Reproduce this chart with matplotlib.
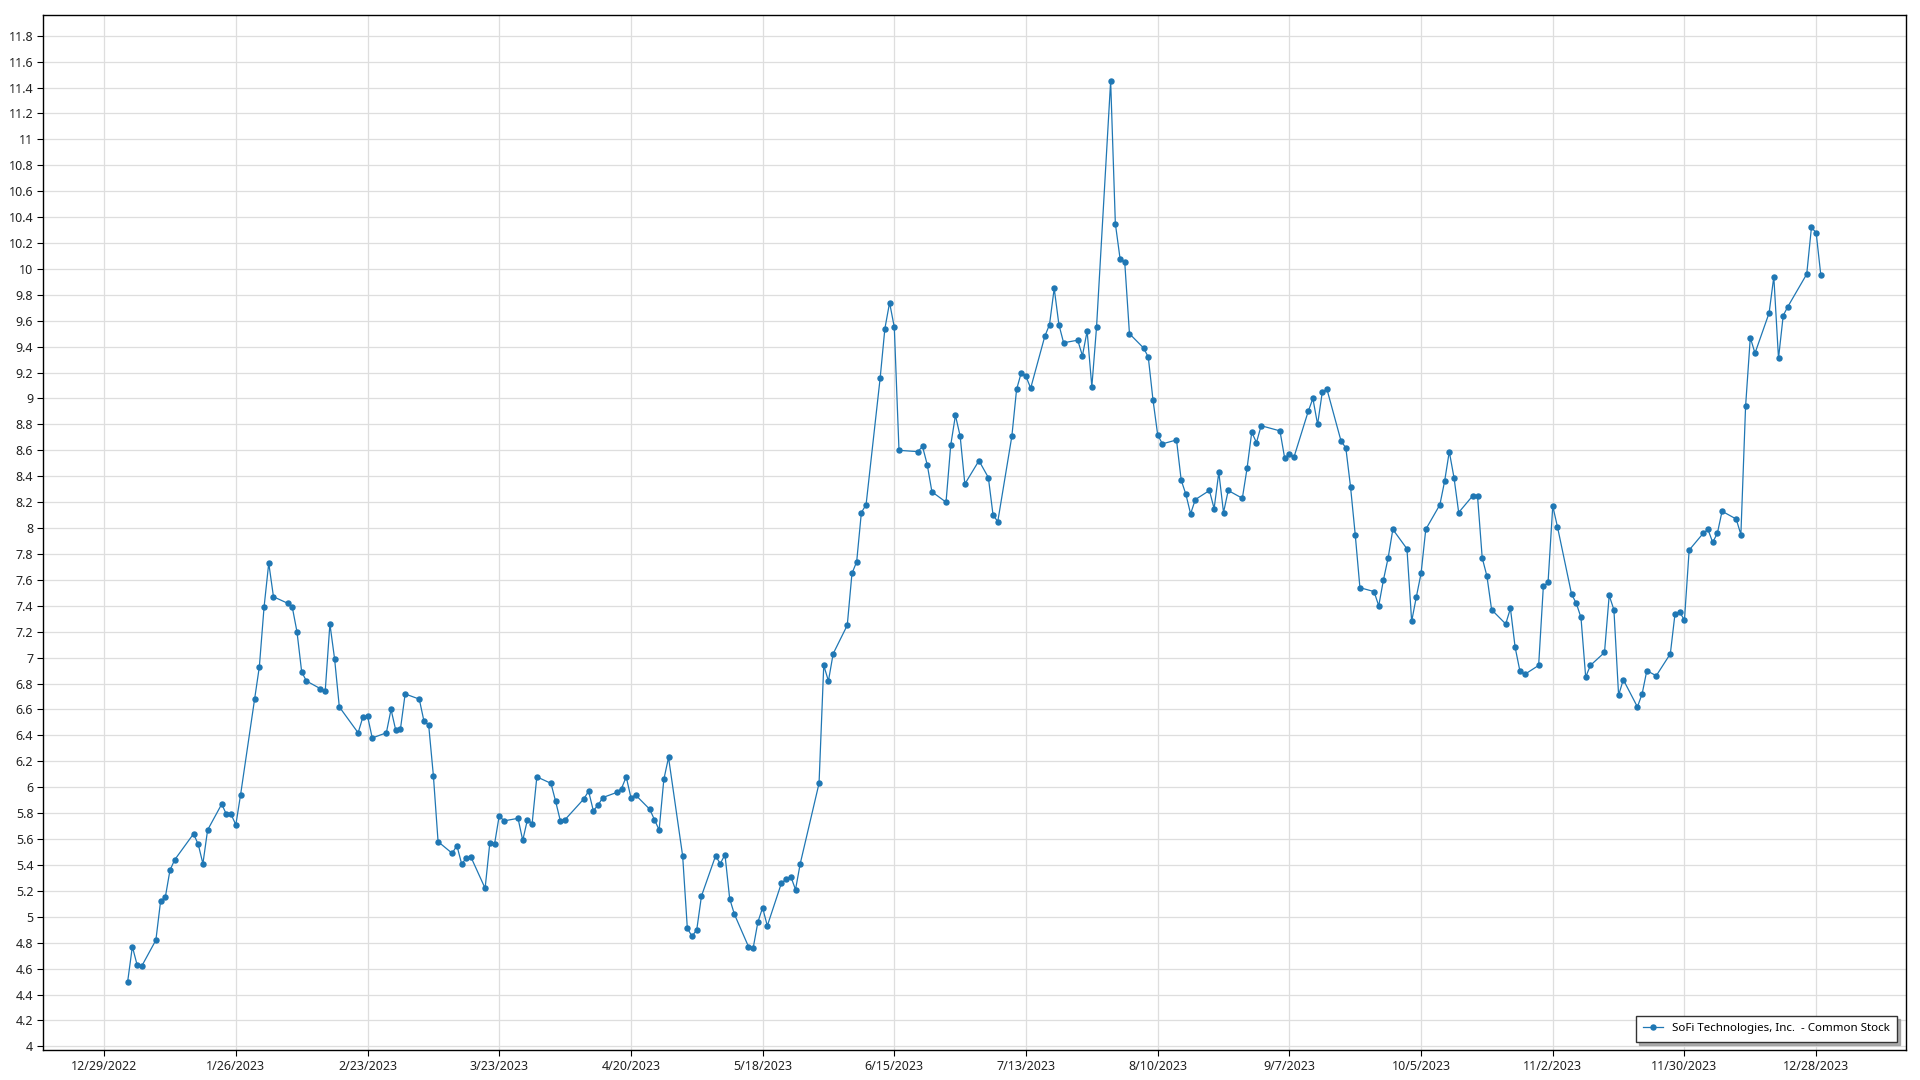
import datetime as dt
import matplotlib
matplotlib.use("Agg")
import matplotlib.pyplot as plt
import matplotlib.dates as mdates
from matplotlib.ticker import MultipleLocator, FuncFormatter, FixedLocator

# ---- data: SoFi closing prices, 2023 (trading days per month) ----
jan_days = [3, 4, 5, 6, 9, 10, 11, 12, 13, 17, 18, 19, 20, 23, 24, 25, 26, 27, 30, 31]
jan_close = [4.50, 4.77, 4.63, 4.62, 4.82, 5.12, 5.15, 5.36, 5.44, 5.64, 5.56, 5.41, 5.67, 5.87, 5.79, 5.79, 5.71, 5.94, 6.68, 6.93]
feb_days = [1, 2, 3, 6, 7, 8, 9, 10, 13, 14, 15, 16, 17, 21, 22, 23, 24, 27, 28]
feb_close = [7.39, 7.73, 7.47, 7.42, 7.39, 7.20, 6.89, 6.82, 6.76, 6.74, 7.26, 6.99, 6.62, 6.42, 6.54, 6.55, 6.38, 6.42, 6.60]
mar_days = [1, 2, 3, 6, 7, 8, 9, 10, 13, 14, 15, 16, 17, 20, 21, 22, 23, 24, 27, 28, 29, 30, 31]
mar_close = [6.44, 6.45, 6.72, 6.68, 6.51, 6.48, 6.09, 5.58, 5.49, 5.55, 5.41, 5.45, 5.46, 5.22, 5.57, 5.56, 5.78, 5.74, 5.76, 5.59, 5.75, 5.72, 6.08]
apr_days = [3, 4, 5, 6, 10, 11, 12, 13, 14, 17, 18, 19, 20, 21, 24, 25, 26, 27, 28]
apr_close = [6.03, 5.89, 5.74, 5.75, 5.91, 5.97, 5.82, 5.86, 5.92, 5.96, 5.99, 6.08, 5.92, 5.94, 5.83, 5.75, 5.67, 6.06, 6.23]
may_days = [1, 2, 3, 4, 5, 8, 9, 10, 11, 12, 15, 16, 17, 18, 19, 22, 23, 24, 25, 26, 30, 31]
may_close = [5.47, 4.91, 4.85, 4.90, 5.16, 5.47, 5.41, 5.48, 5.14, 5.02, 4.77, 4.76, 4.96, 5.07, 4.93, 5.26, 5.29, 5.31, 5.21, 5.41, 6.03, 6.94]
jun_days = [1, 2, 5, 6, 7, 8, 9, 12, 13, 14, 15, 16, 20, 21, 22, 23, 26, 27, 28, 29, 30]
jun_close = [6.82, 7.03, 7.25, 7.65, 7.74, 8.12, 8.18, 9.16, 9.54, 9.74, 9.55, 8.60, 8.59, 8.63, 8.49, 8.28, 8.20, 8.64, 8.87, 8.71, 8.34]
jul_days = [3, 5, 6, 7, 10, 11, 12, 13, 14, 17, 18, 19, 20, 21, 24, 25, 26, 27, 28, 31]
jul_close = [8.52, 8.39, 8.10, 8.05, 8.71, 9.07, 9.20, 9.17, 9.08, 9.48, 9.57, 9.85, 9.57, 9.43, 9.45, 9.33, 9.52, 9.09, 9.55, 11.45]
aug_days = [1, 2, 3, 4, 7, 8, 9, 10, 11, 14, 15, 16, 17, 18, 21, 22, 23, 24, 25, 28, 29, 30, 31]
aug_close = [10.35, 10.08, 10.05, 9.50, 9.39, 9.32, 8.99, 8.72, 8.65, 8.68, 8.37, 8.26, 8.11, 8.22, 8.29, 8.15, 8.43, 8.12, 8.29, 8.23, 8.46, 8.74, 8.66]
sep_days = [1, 5, 6, 7, 8, 11, 12, 13, 14, 15, 18, 19, 20, 21, 22, 25, 26, 27, 28, 29]
sep_close = [8.79, 8.75, 8.54, 8.57, 8.55, 8.90, 9.00, 8.80, 9.05, 9.07, 8.67, 8.62, 8.32, 7.95, 7.54, 7.51, 7.40, 7.60, 7.77, 7.99]
oct_days = [2, 3, 4, 5, 6, 9, 10, 11, 12, 13, 16, 17, 18, 19, 20, 23, 24, 25, 26, 27, 30, 31]
oct_close = [7.84, 7.28, 7.47, 7.65, 7.99, 8.18, 8.36, 8.59, 8.39, 8.12, 8.25, 8.25, 7.77, 7.63, 7.37, 7.26, 7.38, 7.08, 6.90, 6.87, 6.94, 7.55]
nov_days = [1, 2, 3, 6, 7, 8, 9, 10, 13, 14, 15, 16, 17, 20, 21, 22, 24, 27, 28, 29, 30]
nov_close = [7.58, 8.17, 8.01, 7.49, 7.42, 7.31, 6.85, 6.94, 7.04, 7.48, 7.37, 6.71, 6.83, 6.62, 6.72, 6.90, 6.86, 7.03, 7.34, 7.35, 7.29]
dec_days = [1, 4, 5, 6, 7, 8, 11, 12, 13, 14, 15, 18, 19, 20, 21, 22, 26, 27, 28, 29]
dec_close = [7.83, 7.96, 7.99, 7.89, 7.96, 8.13, 8.07, 7.95, 8.94, 9.47, 9.35, 9.66, 9.94, 9.31, 9.64, 9.71, 9.96, 10.32, 10.28, 9.95]

series_label = "SoFi Technologies, Inc.  - Common Stock"
x_tick_labels = ["12/29/2022", "1/26/2023", "2/23/2023", "3/23/2023", "4/20/2023", "5/18/2023",
                 "6/15/2023", "7/13/2023", "8/10/2023", "9/7/2023", "10/5/2023", "11/2/2023",
                 "11/30/2023", "12/28/2023"]

month_days = [jan_days, feb_days, mar_days, apr_days, may_days, jun_days,
              jul_days, aug_days, sep_days, oct_days, nov_days, dec_days]
month_close = [jan_close, feb_close, mar_close, apr_close, may_close, jun_close,
               jul_close, aug_close, sep_close, oct_close, nov_close, dec_close]

dates, close = [], []
for m, (ds, cs) in enumerate(zip(month_days, month_close), start=1):
    for d, c in zip(ds, cs):
        dates.append(dt.datetime(2023, m, d))
        close.append(c)

tick_dates = [dt.datetime.strptime(s, "%m/%d/%Y") for s in x_tick_labels]

# ---- figure ----
plt.rcParams['font.family'] = ['Noto Sans', 'DejaVu Sans']
fig = plt.figure(figsize=(19.2, 10.8), dpi=100)
ax = fig.add_axes([43 / 1920, 1 - 1050 / 1080, (1905.5 - 43) / 1920, (1050 - 14.7) / 1080])

color = '#1f77b4'
ax.plot(dates, close, color=color, linewidth=0.9, marker='o', markersize=3.6,
        markerfacecolor=color, markeredgecolor=color, label=series_label, zorder=3)

base = dt.datetime(2022, 12, 29)
ax.set_xlim(mdates.date2num(base - dt.timedelta(days=13.0)),
            mdates.date2num(base + dt.timedelta(days=383.0)))
ax.set_ylim(3.972, 11.962)

ax.xaxis.set_major_locator(FixedLocator(mdates.date2num(tick_dates)))
ax.set_xticklabels(x_tick_labels)
ax.yaxis.set_major_locator(MultipleLocator(0.2))
ax.yaxis.set_major_formatter(FuncFormatter(lambda v, p: f"{round(v, 1):g}"))

ax.grid(True, color='#dedede', linewidth=0.9, zorder=0)
ax.set_axisbelow(True)
for sp in ax.spines.values():
    sp.set_color('black')
    sp.set_linewidth(1.0)
ax.tick_params(axis='both', which='major', labelsize=9, length=4, width=0.8,
               color='black', labelcolor='#222222', direction='out', pad=3)

leg = ax.legend(loc='lower right', fontsize=8.3, frameon=True, fancybox=False,
                shadow={'color': '#999999', 'alpha': 0.8}, framealpha=1,
                edgecolor='#333333', borderaxespad=0.7, handlelength=1.7,
                borderpad=0.65)
leg.get_frame().set_linewidth(1.0)

fig.savefig("out.png", dpi=100, facecolor='white')
